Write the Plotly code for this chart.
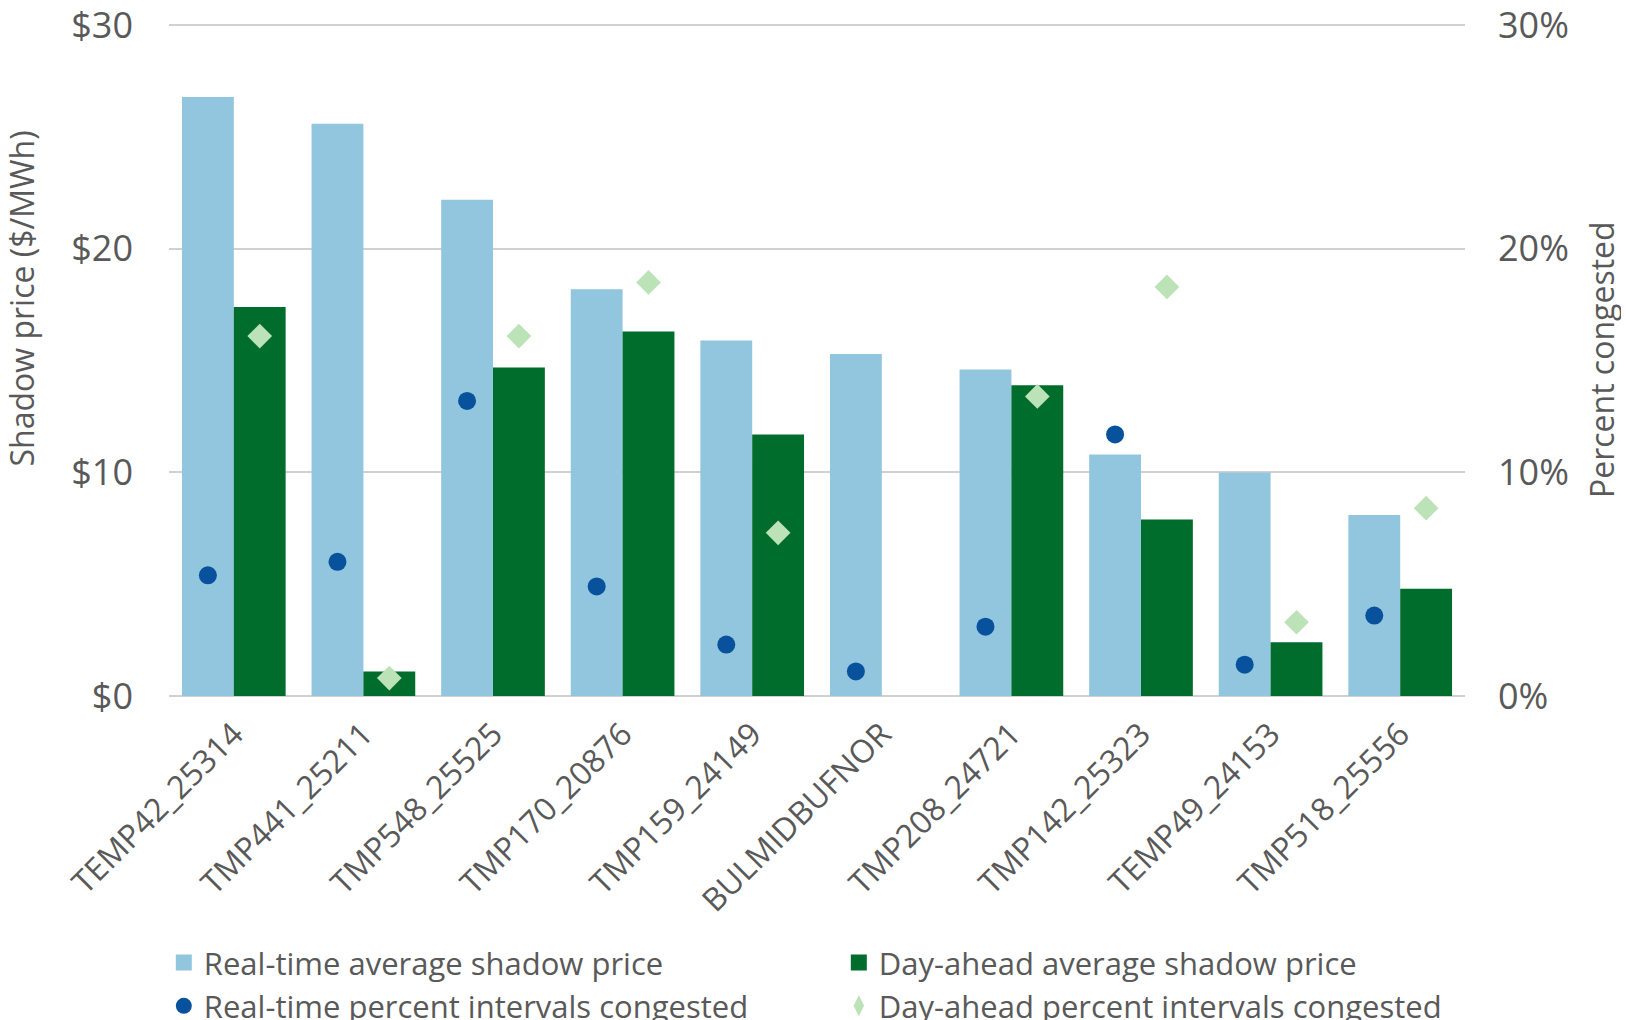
import plotly.graph_objects as go

categories = ["TEMP42_25314", "TMP441_25211", "TMP548_25525", "TMP170_20876", "TMP159_24149",
              "BULMIDBUFNOR", "TMP208_24721", "TMP142_25323", "TEMP49_24153", "TMP518_25556"]
rt_price = [26.8, 25.6, 22.2, 18.2, 15.9, 15.3, 14.6, 10.8, 10.0, 8.1]
da_price = [17.4, 1.1, 14.7, 16.3, 11.7, 0.0, 13.9, 7.9, 2.4, 4.8]
rt_pct = [5.4, 6.0, 13.2, 4.9, 2.3, 1.1, 3.1, 11.7, 1.4, 3.6]
da_pct = [16.1, 0.8, 16.1, 18.5, 7.3, None, 13.4, 18.3, 3.3, 8.4]
y_ticks = [0, 10, 20, 30]
price_labels = ["$0", "$10", "$20", "$30"]
pct_labels = ["0%", "10%", "20%", "30%"]

names = ["Real-time average shadow price", "Day-ahead average shadow price",
         "Real-time percent intervals congested", "Day-ahead percent intervals congested"]
C_RT_BAR, C_DA_BAR, C_RT_PT, C_DA_PT = "#92C5DE", "#006D2C", "#08519C", "#BCE2B7"

FONT = "Open Sans"
GREY = "#595959"
idx = list(range(len(categories)))
left = [i - 0.2 for i in idx]
right = [i + 0.2 for i in idx]

fig = go.Figure()
fig.add_trace(go.Bar(x=left, y=rt_price, width=0.4, name=names[0], showlegend=False,
                     marker=dict(color=C_RT_BAR, line=dict(width=0))))
fig.add_trace(go.Bar(x=right, y=da_price, width=0.4, name=names[1], showlegend=False,
                     marker=dict(color=C_DA_BAR, line=dict(width=0))))
fig.add_trace(go.Scatter(x=left, y=rt_pct, yaxis="y2", mode="markers", name=names[2],
                         showlegend=False,
                         marker=dict(symbol="circle", size=18, color=C_RT_PT)))
fig.add_trace(go.Scatter(x=right, y=da_pct, yaxis="y2", mode="markers", name=names[3],
                         showlegend=False,
                         marker=dict(symbol="diamond", size=19, color=C_DA_PT)))

# legend-only entries (Excel-style legend keys)
legend_keys = [("square", 16, C_RT_BAR), ("square", 16, C_DA_BAR),
               ("circle", 16, C_RT_PT), ("diamond-tall", 15, C_DA_PT)]
for name, (sym, sz, col) in zip(names, legend_keys):
    fig.add_trace(go.Scatter(x=[None], y=[None], mode="markers", name=name,
                             marker=dict(symbol=sym, size=sz, color=col), hoverinfo="skip"))

fig.update_layout(
    width=1621, height=1012,
    margin=dict(l=161, r=164, t=16, b=324, autoexpand=False),
    paper_bgcolor="white", plot_bgcolor="white",
    font=dict(family=FONT, color=GREY, size=31),
    barmode="overlay",
    showlegend=True,
    legend=dict(orientation="h", x=-0.004, xanchor="left", y=-0.357, yanchor="top",
                font=dict(size=31, color=GREY), entrywidth=630, entrywidthmode="pixels",
                itemwidth=30, traceorder="normal", tracegroupgap=0, itemsizing="trace"),
    xaxis=dict(range=[-0.5, 9.5], tickmode="array", tickvals=idx, ticktext=categories,
               tickangle=-45, showgrid=False, zeroline=False, showline=False, automargin=False,
               ticks="", tickfont=dict(size=32, color=GREY), ticklabelstandoff=12),
    yaxis=dict(range=[0, 30.06], tickmode="array", tickvals=y_ticks, ticktext=price_labels,
               showgrid=True, gridcolor="#D0D0D0", gridwidth=1.5, zeroline=True,
               zerolinecolor="#D0D0D0", zerolinewidth=1.5, showline=False, ticks="",
               automargin=False, ticklabeloverflow="allow",
               tickfont=dict(size=36, color=GREY), ticklabelstandoff=35),
    yaxis2=dict(range=[0, 30.06], tickmode="array", tickvals=y_ticks, ticktext=pct_labels,
                overlaying="y", side="right", showgrid=False, zeroline=False, showline=False,
                ticks="", automargin=False, ticklabeloverflow="allow",
                tickfont=dict(size=36, color=GREY), ticklabelstandoff=32),
    annotations=[
        dict(text="Shadow price ($/MWh)", xref="paper", yref="paper", x=-0.114, y=0.592,
             textangle=-90, showarrow=False, font=dict(size=32, color=GREY),
             xanchor="center", yanchor="middle"),
        dict(text="Percent congested", xref="paper", yref="paper", x=1.105, y=0.5,
             textangle=-90, showarrow=False, font=dict(size=32, color=GREY),
             xanchor="center", yanchor="middle"),
    ],
)

fig.write_html("out.html")
